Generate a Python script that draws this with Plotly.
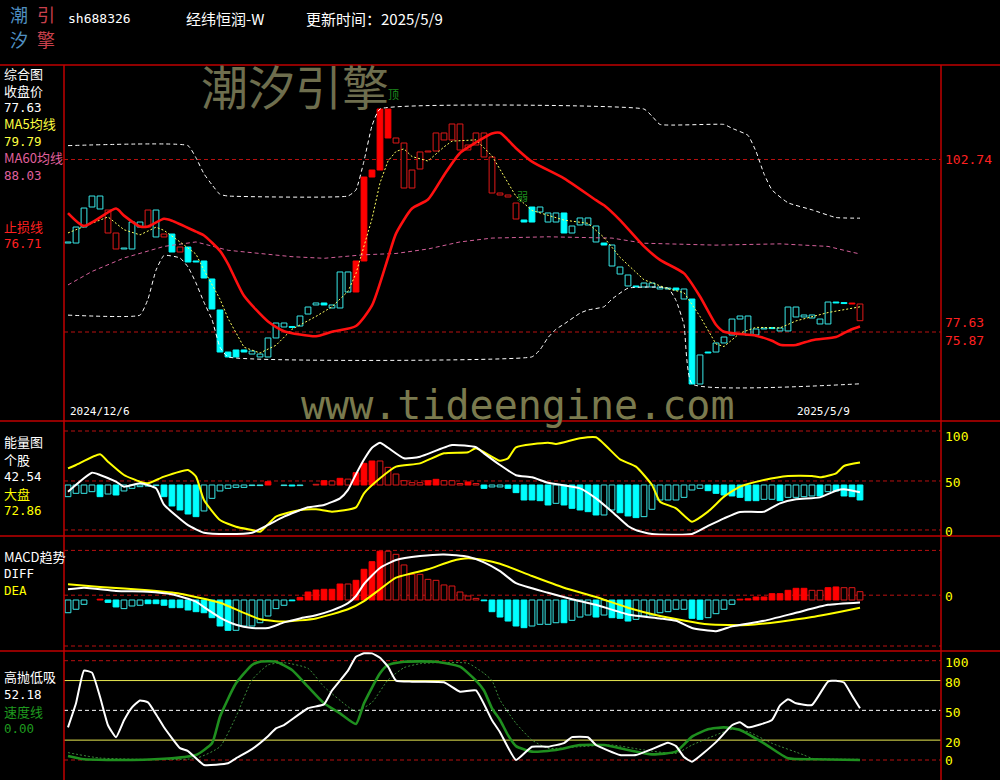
import plotly.graph_objects as go

W, H = 1000, 780

# ---------------- data ----------------
stock_code = "sh688326"
stock_name = "经纬恒润-W"
update_date = "2025/5/9"
first_date = "2024/12/6"
last_date = "2025/5/9"

opens = [89.89, 89.73, 92.22, 95.34, 95.03, 91.29, 88.80, 88.80, 88.80, 92.22,
         92.22, 90.67, 90.67, 91.13, 88.33, 89.11, 86.93, 86.93, 84.13, 79.30,
         72.75, 73.07, 73.07, 72.44, 71.98, 71.98, 74.94, 76.65, 76.72, 76.80,
         78.67, 80.08, 80.39, 79.61, 79.61, 82.10, 82.10, 86.93, 100.01, 101.10,
         110.60, 105.31, 98.30, 98.30, 101.26, 104.06, 104.06, 105.78, 105.78, 104.22,
         104.22, 105.00, 103.13, 97.52, 97.52, 97.21, 93.47, 93.32, 95.34, 94.56,
         93.00, 93.00, 94.41, 91.29, 92.54, 92.54, 89.89, 89.73, 86.15, 84.90,
         83.04, 83.04, 82.88, 82.88, 82.88, 82.72, 82.72, 81.01, 81.01, 67.77,
         72.75, 72.75, 74.16, 75.40, 77.89, 75.40, 75.40, 76.49, 76.49, 76.03,
         76.03, 78.21, 78.21, 78.05, 77.12, 77.12, 80.54, 80.39, 80.30, 80.23]
closes = [89.73, 92.22, 95.18, 97.05, 97.05, 94.87, 91.29, 88.95, 93.00, 93.00,
          94.87, 94.87, 91.13, 88.33, 89.11, 86.77, 86.77, 84.28, 79.45, 72.75,
          71.98, 71.98, 72.75, 72.91, 72.44, 74.94, 77.27, 77.27, 76.58, 78.36,
          79.76, 80.39, 80.08, 80.08, 85.22, 85.22, 86.93, 100.01, 101.10, 110.60,
          106.09, 106.09, 105.31, 101.10, 103.91, 103.91, 106.87, 106.87, 108.27, 108.27,
          105.00, 106.87, 106.87, 103.13, 97.21, 96.90, 95.96, 93.00, 93.00, 95.34,
          94.41, 94.41, 91.29, 92.38, 93.63, 93.63, 92.38, 89.42, 89.42, 85.99,
          84.75, 82.88, 83.50, 83.50, 82.57, 82.57, 82.41, 82.57, 67.77, 72.29,
          72.60, 74.16, 75.09, 77.89, 78.36, 78.36, 76.34, 76.34, 76.40, 76.49,
          79.76, 79.76, 78.52, 78.52, 77.89, 80.54, 80.39, 80.30, 80.23, 77.63]
# candle style: r/c = red/cyan, h/f = hollow/filled
styles = ["ch", "ch", "ch", "ch", "ch", "rh", "rh", "ch", "ch", "ch",
          "rh", "ch", "rh", "cf", "rh", "cf", "cf", "cf", "cf", "cf",
          "cf", "cf", "cf", "ch", "ch", "ch", "ch", "ch", "cf", "ch",
          "ch", "ch", "cf", "ch", "ch", "ch", "rf", "rf", "rf", "rf",
          "rf", "rh", "rh", "rh", "rh", "rh", "rh", "rh", "rh", "rh",
          "rh", "rh", "rh", "rh", "rh", "rh", "rh", "cf", "cf", "ch",
          "ch", "ch", "cf", "ch", "ch", "ch", "ch", "cf", "ch", "ch",
          "ch", "cf", "ch", "ch", "ch", "ch", "cf", "ch", "cf", "ch",
          "cf", "ch", "ch", "ch", "ch", "ch", "ch", "ch", "cf", "ch",
          "ch", "ch", "ch", "ch", "ch", "ch", "cf", "cf", "rf", "rh"]

# stop-loss line (止损线) : (day index, value)
stop_x = [0, 2, 6, 7, 9, 10, 12, 13, 16, 17, 19, 20, 22, 25, 27, 31, 33, 36, 38, 40,
          41, 43, 45, 47, 49, 51, 53, 54, 56, 58, 62, 66, 67, 69, 72, 74, 77, 79, 81, 82,
          86, 88, 89, 91, 93, 96, 97, 98, 99]
stop_v = [94.4, 92.4, 95.1, 94.0, 92.3, 92.3, 93.5, 93.2, 91.5, 90.9, 88.5, 86.5, 81.5, 77.5, 76.0, 75.2, 75.9, 76.8, 80.0, 87.4,
          91.2, 95.1, 96.5, 100.3, 103.75, 105.4, 106.8, 106.9, 104.5, 102.4, 99.8, 96.4, 95.6, 93.3, 89.2, 87.1, 85.0, 81.4, 77.0, 75.9,
          75.3, 74.5, 73.9, 73.85, 74.6, 75.1, 75.7, 76.3, 76.71]
# MA5
ma5_x = [0, 2, 5, 7, 9, 11, 12, 14, 16, 17, 19, 20, 22, 24, 26, 28, 31, 33, 35, 36,
         38, 39, 40, 41, 42, 43, 45, 47, 48, 51, 53, 55, 56, 58, 62, 65, 67, 69, 72, 75,
         77, 79, 81, 82, 84, 86, 89, 91, 95, 99]
ma5_v = [91.3, 92.3, 93.8, 91.8, 91.0, 92.2, 91.7, 89.9, 88.0, 85.5, 81.0, 78.0, 73.5, 72.6, 73.8, 76.3, 78.3, 79.8, 82.2, 85.0,
         93.5, 99.1, 102.5, 104.0, 104.4, 103.2, 102.5, 104.7, 105.6, 105.8, 103.3, 99.1, 97.0, 94.8, 93.3, 92.8, 90.6, 87.5, 84.0, 82.6,
         82.0, 78.3, 74.0, 73.6, 75.7, 76.6, 76.5, 77.6, 78.9, 79.79]
# MA60
ma60_x = [0, 3, 7, 12, 16, 20, 24, 28, 32, 37, 41, 45, 49, 53, 60, 68, 72, 81, 89, 95, 98, 99]
ma60_v = [83.2, 85.3, 87.4, 89.2, 89.9, 88.6, 88.1, 87.6, 87.35, 87.9, 88.1, 88.8, 89.9, 90.5, 90.7, 90.5, 89.7, 89.4, 89.6, 89.2, 88.3, 88.03]
# upper / lower channel
up_x = [0, 15, 16, 17, 18, 19, 20, 35, 36, 37, 38, 39, 72, 73, 74, 82, 83, 85, 86, 87, 88, 90, 93, 96, 99]
up_v = [104.9, 104.9, 103.0, 100.5, 98.8, 97.3, 97.05, 97.05, 98.0, 102.5, 108.0, 110.6, 110.6, 109.5, 108.2, 108.2, 107.6, 106.5, 104.0, 100.5, 98.0, 96.0, 94.9, 93.7, 93.6]
lo_x = [0, 9, 10, 11, 12, 14, 15, 16, 17, 18, 19, 20, 58, 59, 60, 61, 62, 64, 65, 67, 68, 70, 75, 76, 77, 78, 99]
lo_v = [78.5, 78.5, 81.0, 85.5, 87.8, 87.4, 86.0, 83.5, 80.5, 77.8, 73.5, 72.0, 72.0, 73.1, 75.0, 76.3, 77.1, 78.8, 79.3, 79.8, 81.0, 82.7, 82.7, 80.8, 77.0, 67.8, 67.8]
price_marks = [102.74, 75.87]
close_last, ma5_last, ma60_last, stop_last = 77.63, 79.79, 88.03, 76.71

# 能量图
en_bar = [38.1, 41.5, 41.5, 43.2, 38.1, 40.8, 39.8, 43.9, 46.6, 48.3,
          48.9, 49.5, 38.1, 28.6, 24.5, 20.4, 17.7, 23.5, 36.4, 43.9,
          46.6, 47.6, 47.6, 49.5, 49.5, 53.4, 50.0, 49.5, 49.0, 49.5,
          50.0, 50.7, 54.4, 54.1, 56.8, 56.0, 62.6, 72.1, 74.5, 74.5,
          68.0, 61.2, 54.4, 52.4, 52.4, 54.4, 55.8, 54.4, 54.4, 51.5,
          53.1, 51.5, 46.6, 48.0, 48.0, 46.6, 42.2, 34.7, 34.7, 34.0,
          29.6, 31.3, 29.6, 26.2, 24.5, 22.8, 19.4, 19.4, 24.5, 21.7,
          18.4, 16.7, 17.7, 25.2, 34.7, 34.7, 34.7, 37.4, 44.9, 46.6,
          44.2, 41.5, 39.8, 38.8, 37.4, 34.0, 34.0, 35.4, 35.4, 34.0,
          37.4, 37.4, 38.1, 38.8, 38.8, 43.2, 43.9, 38.8, 38.1, 34.7]
en_fill = list("hhhhfhfhhh" "hhfffffhhh" "hhhhhfhhfh" "hhfhfhfffh" "hhhhhffhhh"
               "fhfhhfffff" "fhfffffhhf" "ffhhhhhhhh" "fffffffhhf" "hhhhfhffff")
stock_x = [0, 3, 4, 6, 7, 9, 11, 12, 15, 17, 20, 23, 25, 27, 30, 32, 34, 35, 36, 37,
           38, 39, 40, 42, 44, 48, 51, 52, 54, 56, 58, 60, 64, 66, 68, 70, 71, 73, 78, 80,
           82, 84, 87, 89, 91, 94, 96, 97, 99]
stock_v = [43.2, 62.6, 60.2, 53.4, 48.3, 51.7, 46.6, 30.0, 9.0, 1.3, 0.0, 1.3, 9.2, 17.7, 27.2, 29.6, 36.4, 45.0, 61.0, 76.0,
           88.0, 93.0, 88.0, 77.2, 78.9, 90.8, 88.5, 82.3, 70.4, 60.0, 57.9, 52.3, 46.6, 36.4, 22.8, 8.2, 4.0, 0.0, 0.0, 8.2,
           16.0, 22.5, 22.8, 31.3, 35.4, 37.4, 44.2, 45.6, 42.54]
mkt_x = [0, 1, 4, 5, 7, 9, 10, 12, 15, 16, 17, 19, 21, 23, 24, 26, 29, 31, 33, 36,
         37, 39, 41, 44, 47, 50, 51, 54, 55, 56, 60, 61, 64, 66, 69, 71, 73, 74, 76, 78,
         80, 82, 84, 87, 90, 93, 94, 96, 97, 99]
mkt_v = [67.0, 70.4, 81.3, 73.8, 60.2, 53.4, 51.7, 58.5, 65.3, 58.5, 34.7, 14.3, 7.4, 4.1, 2.3, 17.7, 24.5, 25.2, 22.8, 27.2,
         41.5, 56.8, 68.7, 72.1, 82.3, 83.4, 87.4, 74.8, 77.2, 88.5, 93.2, 91.8, 97.7, 98.7, 76.2, 68.7, 50.0, 33.0, 26.2, 12.6,
         22.8, 38.1, 48.3, 55.1, 59.2, 59.2, 57.9, 61.9, 69.4, 72.86]
en_last_stock, en_last_mkt = 42.54, 72.86

# MACD
macd_bar = [-1.59, -1.16, -0.54, 0.0, 0.05, -0.30, -0.87, -1.08, -0.75, -0.66,
            -0.46, -0.46, -0.66, -0.96, -0.96, -1.25, -1.46, -1.59, -2.21, -3.25,
            -3.79, -3.79, -3.25, -3.25, -2.84, -2.00, -1.08, -0.66, -0.10, 0.33,
            1.00, 1.25, 1.34, 1.34, 2.00, 2.00, 2.46, 3.84, 4.79, 6.10,
            6.10, 5.71, 4.38, 3.21, 3.21, 2.58, 2.46, 1.88, 1.75, 1.00,
            0.50, 0.20, -0.10, -1.46, -2.13, -2.63, -3.25, -3.46, -3.25, -3.04,
            -3.04, -2.84, -2.84, -2.54, -2.13, -1.88, -2.13, -1.88, -2.21, -2.29,
            -2.63, -2.42, -2.00, -1.88, -1.59, -1.46, -1.16, -1.16, -2.29, -2.42,
            -2.21, -1.71, -1.16, -0.54, 0.05, 0.15, 0.38, 0.38, 0.79, 0.79,
            1.21, 1.46, 1.46, 1.21, 1.21, 1.54, 1.63, 1.54, 1.54, 1.04]
macd_fill = list("hhhhfffhhh" "ffffffffff" "fhhhhhhhff" "fffffhffff" "hhhhhhhhhh"
                 "hhffffffhh" "hhfhhhfhff" "fhhhhhhhff" "hhhhffffff" "fffhhffhhh")
diff_x = [0, 2, 6, 10, 13, 16, 17, 19, 21, 23, 25, 27, 29, 31, 33, 35, 36, 37, 39, 41,
          44, 47, 50, 52, 54, 56, 60, 63, 66, 70, 74, 76, 78, 81, 83, 87, 91, 95, 99]
diff_v = [1.34, 1.54, 1.13, 1.04, 0.71, -0.2, -0.9, -2.2, -3.1, -3.5, -3.5, -2.8, -2.3, -1.9, -1.3, -0.4, 0.5, 2.0, 4.0, 5.0,
          5.5, 5.7, 5.4, 4.7, 3.6, 2.1, 0.9, 0.1, -0.6, -1.8, -2.3, -2.6, -3.5, -3.9, -3.3, -2.6, -1.6, -0.6, -0.3]
dea_x = [0, 4, 10, 14, 19, 22, 24, 27, 31, 35, 37, 39, 41, 45, 48, 50, 52, 54, 58, 62,
         66, 70, 74, 80, 85, 89, 93, 99]
dea_v = [1.96, 1.63, 1.21, 0.79, -0.34, -1.6, -2.4, -2.7, -2.3, -1.16, -0.13, 1.34, 2.79, 3.84, 4.88, 5.21, 5.0, 4.54, 3.0, 1.54,
         0.38, -0.96, -2.0, -3.04, -3.13, -2.71, -2.13, -0.96]

# 高抛低吸
hl_x = [0, 1, 2, 3, 4, 5, 6, 7, 8, 9, 10, 11, 12, 14, 15, 17, 20, 21, 23, 25,
        26, 27, 30, 32, 33, 35, 36, 37, 38, 39, 40, 41, 43, 47, 49, 51, 53, 54, 56, 58,
        60, 62, 63, 65, 66, 69, 71, 73, 75, 76, 77, 78, 81, 83, 84, 85, 88, 89, 90, 91,
        93, 95, 96, 97, 98, 99]
hl_v = [32.9, 57.1, 90.0, 88.0, 63.7, 35.0, 22.9, 40.0, 53.0, 60.0, 58.0, 46.0, 33.0, 12.0, 9.0, -5.0, -3.3, 1.7, 11.0, 24.0,
        31.9, 35.2, 52.1, 56.0, 70.0, 90.0, 104.0, 107.4, 107.4, 103.0, 94.0, 80.0, 78.9, 78.3, 68.8, 70.0, 40.0, 28.0, 0.0, 13.4,
        13.4, 17.0, 23.0, 22.9, 15.1, 5.0, 5.0, 11.0, 17.4, 14.0, 3.0, -1.7, 18.0, 35.0, 38.0, 32.9, 40.3, 55.0, 61.1, 57.1,
        55.4, 79.0, 79.9, 78.0, 65.0, 52.18]
spd_x = [0, 2, 8, 13, 16, 18, 19, 21, 23, 24, 26, 28, 30, 32, 34, 36, 37, 39, 40, 42,
         46, 49, 51, 52, 53, 54, 55, 56, 58, 61, 64, 67, 70, 73, 76, 78, 80, 82, 84, 87,
         90, 93, 99]
spd_v = [4.0, 0.7, 0.0, 1.7, 5.0, 16.8, 43.6, 77.2, 95.7, 99.0, 99.0, 90.6, 73.8, 57.1, 47.0, 36.3, 57.1, 87.3, 95.7, 99.0,
         99.0, 94.0, 80.0, 70.0, 52.0, 40.3, 25.0, 14.0, 8.4, 10.1, 15.1, 15.1, 10.1, 5.7, 8.4, 23.5, 30.9, 32.9, 30.2, 16.8,
         1.7, 0.7, 0.0]
spd2_x = [0, 4, 16, 19, 21, 23, 25, 27, 30, 32, 35, 36, 38, 40, 42, 44, 46, 50, 52, 53,
          54, 56, 58, 60, 64, 68, 72, 76, 78, 81, 83, 85, 88, 92, 93, 99]
spd2_v = [7.4, 2.0, 1.7, 13.4, 43.6, 80.6, 95.7, 98.0, 92.3, 73.8, 53.7, 49.0, 58.0, 80.6, 93.0, 97.0, 98.0, 97.4, 87.3, 80.0,
          60.4, 37.0, 20.1, 11.8, 13.4, 15.1, 10.1, 6.7, 15.1, 25.2, 30.9, 28.5, 16.8, 5.0, 1.7, 0.7]
hl_last, spd_last = 52.18, 0.00

# ---------------- layout helpers ----------------
def fx(p):
    return p / W

def fy(p):
    return 1 - p / H

X0, X1 = 64, 941
n = len(closes)
xr = [(X0 - 68) / 8, (X1 - 68) / 8]

RED = "#ff0000"
RED_H = "#e01818"
CY = "#00ffff"
CY_H = "#38e8e8"
FRAME = "#c00000"
GRIDR = "#b81010"

fig = go.Figure()

def add_boxes(xs, lo, hi, color, filled, yaxis, width=0.72):
    if not xs:
        return
    fig.add_trace(go.Bar(
        x=xs, y=[max(h - l, 0.0001) for l, h in zip(lo, hi)], base=lo, width=width,
        marker=dict(color=color if filled else "black", line=dict(color=color, width=1)),
        yaxis=yaxis, xaxis="x", showlegend=False, hoverinfo="skip"))

# ---------- candles ----------
for key, col in [("rf", RED), ("rh", RED_H), ("cf", CY), ("ch", CY_H)]:
    xs, lo, hi = [], [], []
    for i in range(n):
        if styles[i] == key:
            a, b = min(opens[i], closes[i]), max(opens[i], closes[i])
            if b - a < 0.15:
                b = a + 0.15
            xs.append(i); lo.append(a); hi.append(b)
    add_boxes(xs, lo, hi, col, key.endswith("f"), "y")

def line(xs, ys, yaxis, color, width, dash="solid", smooth=None):
    ln = dict(color=color, width=width, dash=dash)
    if smooth:
        ln.update(shape="spline", smoothing=smooth)
    fig.add_trace(go.Scatter(x=xs, y=ys, mode="lines", line=ln, yaxis=yaxis, xaxis="x",
                             hoverinfo="skip", showlegend=False))

# ---------- main lines ----------
line(ma60_x, ma60_v, "y", "#d4609a", 1, "4px,3px")
line(up_x, up_v, "y", "white", 1, "4px,3px", 0.4)
line(lo_x, lo_v, "y", "white", 1, "4px,3px", 0.4)
line(ma5_x, ma5_v, "y", "#ffff60", 1, "2px,2px")
line(stop_x, stop_v, "y", "#ff1010", 2.6, "solid", 0.6)

# ---------- bars helper for oscillators ----------
def add_hist(vals, fills, base, minh, yaxis):
    for is_red, colf, colh in [(True, RED, RED_H), (False, CY, CY_H)]:
        for filled in (True, False):
            xs, lo, hi = [], [], []
            for i, v in enumerate(vals):
                if abs(v - base) < 0.01:
                    continue
                if (v > base) != is_red:
                    continue
                if (fills[i] == "f") != filled:
                    continue
                a, b = min(base, v), max(base, v)
                if b - a < minh:
                    if is_red:
                        b = a + minh
                    else:
                        a = b - minh
                xs.append(i); lo.append(a); hi.append(b)
            add_boxes(xs, lo, hi, colf if filled else colh, filled, yaxis)

add_hist(en_bar, en_fill, 50, 0.6, "y2")
line(mkt_x, mkt_v, "y2", "#ffff00", 2, "solid", 0.5)
line(stock_x, stock_v, "y2", "white", 2, "solid", 0.5)

add_hist(macd_bar, macd_fill, 0, 0.1, "y3")
line(dea_x, dea_v, "y3", "#ffff00", 2, "solid", 0.5)
line(diff_x, diff_v, "y3", "white", 2, "solid", 0.5)

line(spd2_x, spd2_v, "y4", "#3c8c3c", 1, "2px,2px", 0.5)
line(spd_x, spd_v, "y4", "#1f8f1f", 2.6, "solid", 0.5)
line(hl_x, hl_v, "y4", "white", 2, "solid", 0.4)

# ---------- axes ----------
def ydom(top, bot):
    return [fy(bot), fy(top)]

ax_common = dict(visible=False, showgrid=False, zeroline=False, fixedrange=True)
main_rng = [75.87 - (421 - 332) / 6.42, 75.87 + (332 - 65) / 6.42]
en_rng = [(534 - 536) / 0.98, (534 - 421) / 0.98]
macd_rng = [(600 - 651) / 8.0, (600 - 536) / 8.0]
hl_rng = [(760 - 780) / 0.993, (760 - 651) / 0.993]

fig.update_layout(
    width=W, height=H, margin=dict(l=0, r=0, t=0, b=0),
    paper_bgcolor="black", plot_bgcolor="black", barmode="overlay", bargap=0,
    showlegend=False,
    xaxis=dict(domain=[fx(X0), fx(X1)], range=xr, **ax_common),
    yaxis=dict(domain=ydom(65, 421), range=main_rng, anchor="x", **ax_common),
    yaxis2=dict(domain=ydom(421, 536), range=en_rng, anchor="x", **ax_common),
    yaxis3=dict(domain=ydom(536, 651), range=macd_rng, anchor="x", **ax_common),
    yaxis4=dict(domain=ydom(651, 780), range=hl_rng, anchor="x", **ax_common),
)

shapes = []
for yy in (65, 421, 536, 651):
    shapes.append(dict(type="line", xref="paper", yref="paper", x0=0, x1=1, y0=fy(yy), y1=fy(yy),
                       line=dict(color=FRAME, width=1.5)))
for xx in (X0, X1):
    shapes.append(dict(type="line", xref="paper", yref="paper", x0=fx(xx), x1=fx(xx), y0=fy(65), y1=0,
                       line=dict(color=FRAME, width=1.5)))

def hline(yv, yref, color, dash, width=1):
    shapes.append(dict(type="line", xref="paper", yref=yref, x0=fx(X0), x1=fx(X1), y0=yv, y1=yv,
                       line=dict(color=color, width=width, dash=dash), layer="below"))

for pv in price_marks:
    hline(pv, "y", GRIDR, "4px,3px")
for v in (105.1, 54.1, 4.1):
    hline(v, "y2", GRIDR, "4px,3px")
for v in (6.2, 0.6, -5.75):
    hline(v, "y3", GRIDR, "4px,3px")
hline(100, "y4", GRIDR, "4px,3px")
hline(0, "y4", GRIDR, "4px,3px")
hline(80, "y4", "#e8e850", "solid")
hline(20, "y4", "#e8e850", "solid")
hline(50, "y4", "white", "4px,3px")
fig.update_layout(shapes=shapes)

ann = []
CJK = "Noto Sans CJK SC"
MONO = "DejaVu Sans Mono"

def txt(x, y, s, color, size=13, family=CJK, xanchor="left"):
    ann.append(dict(x=fx(x), y=fy(y), xref="paper", yref="paper", text=s, showarrow=False,
                    xanchor=xanchor, yanchor="middle", font=dict(color=color, size=size, family=family)))

# logo
txt(8, 14, "潮", "#4f8fc0", 18)
txt(35, 14, "引", "#c8404c", 18)
txt(8, 39, "汐", "#4f8fc0", 18)
txt(35, 39, "擎", "#c8404c", 18)
# header
txt(66, 18, stock_code, "white", 13, MONO)
txt(184, 18, stock_name, "white", 15)
txt(304, 18, "更新时间：" + update_date, "white", 15)

# watermarks
txt(199, 84, "潮汐引擎", "#6e6e4e", 47)
txt(299, 405, "www.tideengine.com", "#7a7a4e", 40, MONO)
txt(386, 94, "顶", "#1e8c1e", 11)
txt(515, 196, "弱", "#1e8c1e", 11)

# date labels
txt(68, 411, first_date, "white", 11, MONO)
txt(852, 411, last_date, "white", 11, MONO, xanchor="right")

# left legend texts
LS = 13
NS = 12.5
txt(2, 73, "综合图", "white", LS)
txt(2, 90.5, "收盘价", "white", LS)
txt(2, 107.5, f"{close_last:.2f}", "white", NS, MONO)
txt(2, 124, "MA5均线", "#ffff40", LS)
txt(2, 141, f"{ma5_last:.2f}", "#ffff40", NS, MONO)
txt(2, 158, "MA60均线", "#e0609e", LS)
txt(2, 175.5, f"{ma60_last:.2f}", "#e0609e", NS, MONO)
txt(2, 226, "止损线", "#ff2020", LS)
txt(2, 243, f"{stop_last:.2f}", "#ff2020", NS, MONO)

txt(2, 441, "能量图", "white", LS)
txt(2, 459, "个股", "white", LS)
txt(2, 476, f"{en_last_stock:.2f}", "white", NS, MONO)
txt(2, 493, "大盘", "#ffff00", LS)
txt(2, 510, f"{en_last_mkt:.2f}", "#ffff00", NS, MONO)

txt(2, 556, "MACD趋势", "white", LS)
txt(2, 573, "DIFF", "white", NS, MONO)
txt(2, 590, "DEA", "#ffff00", NS, MONO)

txt(2, 676, "高抛低吸", "white", LS)
txt(2, 694, f"{hl_last:.2f}", "white", NS, MONO)
txt(2, 711, "速度线", "#1f9a1f", LS)
txt(2, 728, f"{spd_last:.2f}", "#1f9a1f", NS, MONO)

# right side labels
txt(943, 160, f"{price_marks[0]:.2f}", "#ff2020", 13, MONO)
txt(943, 322, f"{close_last:.2f}", "#ff2020", 13, MONO)
txt(943, 340, f"{price_marks[1]:.2f}", "#ff2020", 13, MONO)
for v, yy in [(100, 436), (50, 482), (0, 531)]:
    txt(943, yy, str(v), "#ffff00", 13, MONO)
txt(943, 596, "0", "#ffff00", 13, MONO)
for v, yy in [(100, 662), (80, 682), (50, 712), (20, 742), (0, 760)]:
    txt(943, yy, str(v), "#ffff00", 13, MONO)

fig.update_layout(annotations=ann)

fig.write_html("out.html", config={"displayModeBar": False, "staticPlot": True},
               post_script="document.body.style.margin='0';document.body.style.background='black';")
